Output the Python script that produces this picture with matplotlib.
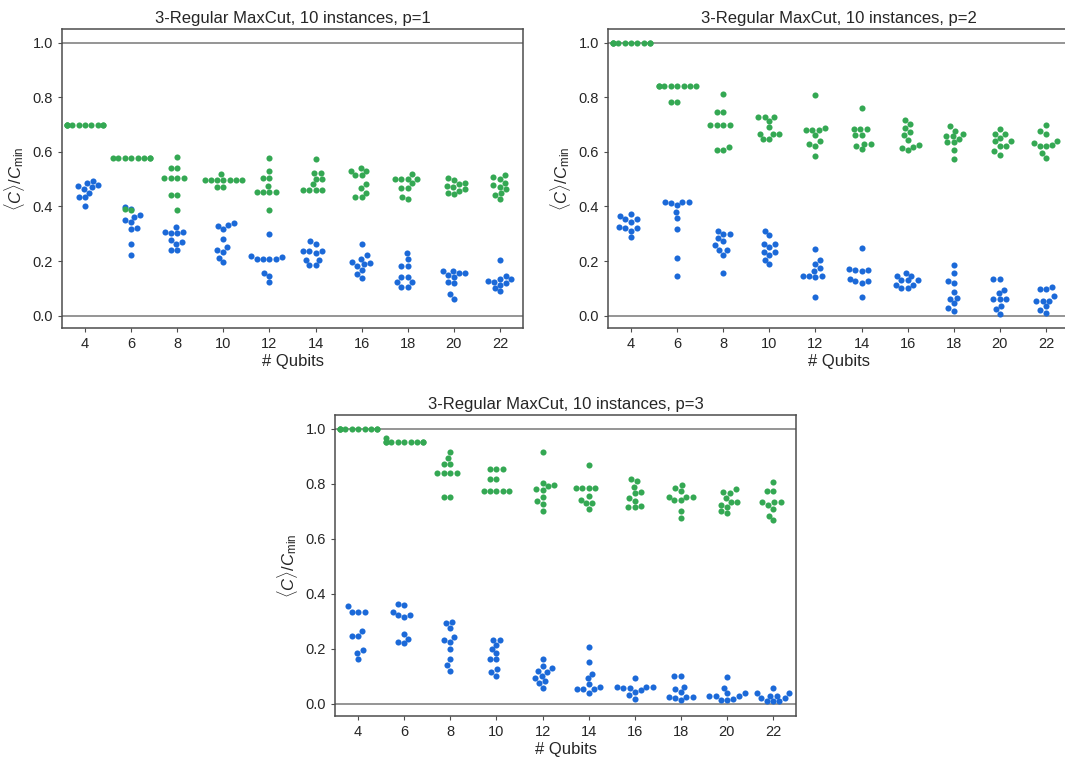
import warnings
import matplotlib
matplotlib.use('Agg')
import matplotlib.pyplot as plt
import numpy as np
import pandas as pd
import seaborn as sns

warnings.filterwarnings('ignore')

qubits = [4, 6, 8, 10, 12, 14, 16, 18, 20, 22]

# <C>/C_min per instance, one row of 10 instances per qubit count
ideal_p1 = [
    [0.70] * 10,
    [0.578] * 8 + [0.392, 0.386],
    [0.580, 0.541, 0.541, 0.504, 0.504, 0.504, 0.504, 0.443, 0.443, 0.388],
    [0.519, 0.498, 0.498, 0.498, 0.498, 0.498, 0.498, 0.498, 0.471, 0.471],
    [0.579, 0.529, 0.504, 0.504, 0.475, 0.453, 0.453, 0.453, 0.453, 0.388],
    [0.575, 0.524, 0.524, 0.502, 0.502, 0.481, 0.460, 0.460, 0.460, 0.460],
    [0.542, 0.531, 0.531, 0.515, 0.515, 0.481, 0.467, 0.451, 0.434, 0.434],
    [0.519, 0.501, 0.501, 0.501, 0.501, 0.485, 0.469, 0.469, 0.436, 0.427],
    [0.503, 0.497, 0.487, 0.481, 0.475, 0.470, 0.463, 0.458, 0.450, 0.444],
    [0.514, 0.507, 0.501, 0.487, 0.479, 0.473, 0.463, 0.451, 0.442, 0.428],
]
noisy_p1 = [
    [0.493, 0.485, 0.479, 0.475, 0.470, 0.465, 0.451, 0.436, 0.433, 0.403],
    [0.399, 0.390, 0.369, 0.363, 0.351, 0.343, 0.321, 0.316, 0.262, 0.221],
    [0.324, 0.307, 0.307, 0.302, 0.302, 0.277, 0.271, 0.262, 0.240, 0.240],
    [0.338, 0.331, 0.327, 0.316, 0.281, 0.253, 0.240, 0.234, 0.211, 0.196],
    [0.300, 0.219, 0.214, 0.207, 0.207, 0.207, 0.207, 0.155, 0.146, 0.123],
    [0.272, 0.263, 0.238, 0.238, 0.238, 0.231, 0.204, 0.204, 0.185, 0.185],
    [0.264, 0.221, 0.209, 0.196, 0.193, 0.189, 0.183, 0.168, 0.153, 0.137],
    [0.231, 0.209, 0.183, 0.183, 0.141, 0.141, 0.122, 0.122, 0.106, 0.106],
    [0.165, 0.165, 0.158, 0.158, 0.150, 0.143, 0.125, 0.118, 0.078, 0.060],
    [0.203, 0.146, 0.136, 0.133, 0.127, 0.124, 0.120, 0.113, 0.101, 0.089],
]

ideal_p2 = [
    [1.0] * 10,
    [0.842] * 8 + [0.783, 0.783],
    [0.813, 0.747, 0.747, 0.697, 0.697, 0.697, 0.697, 0.617, 0.606, 0.606],
    [0.729, 0.729, 0.729, 0.714, 0.690, 0.667, 0.667, 0.667, 0.648, 0.648],
    [0.810, 0.686, 0.679, 0.679, 0.679, 0.660, 0.639, 0.628, 0.622, 0.584],
    [0.762, 0.684, 0.684, 0.684, 0.662, 0.662, 0.629, 0.629, 0.620, 0.609],
    [0.715, 0.703, 0.688, 0.672, 0.663, 0.645, 0.624, 0.619, 0.614, 0.606],
    [0.693, 0.678, 0.666, 0.657, 0.657, 0.648, 0.635, 0.635, 0.607, 0.575],
    [0.684, 0.665, 0.665, 0.652, 0.638, 0.638, 0.623, 0.623, 0.602, 0.590],
    [0.698, 0.675, 0.665, 0.640, 0.633, 0.626, 0.622, 0.622, 0.595, 0.578],
]
noisy_p2 = [
    [0.372, 0.365, 0.353, 0.353, 0.344, 0.326, 0.320, 0.320, 0.311, 0.288],
    [0.418, 0.418, 0.418, 0.414, 0.405, 0.381, 0.359, 0.316, 0.210, 0.144],
    [0.310, 0.300, 0.300, 0.286, 0.273, 0.258, 0.242, 0.242, 0.224, 0.156],
    [0.312, 0.295, 0.263, 0.263, 0.250, 0.233, 0.233, 0.221, 0.203, 0.188],
    [0.245, 0.203, 0.191, 0.176, 0.163, 0.144, 0.144, 0.144, 0.141, 0.068],
    [0.247, 0.170, 0.166, 0.166, 0.162, 0.135, 0.126, 0.126, 0.119, 0.070],
    [0.156, 0.147, 0.147, 0.129, 0.129, 0.129, 0.114, 0.114, 0.102, 0.102],
    [0.186, 0.156, 0.127, 0.120, 0.087, 0.065, 0.063, 0.045, 0.027, 0.018],
    [0.134, 0.134, 0.095, 0.085, 0.063, 0.063, 0.063, 0.036, 0.023, 0.005],
    [0.107, 0.097, 0.097, 0.072, 0.055, 0.055, 0.055, 0.036, 0.021, 0.010],
]

ideal_p3 = [
    [1.0] * 10,
    [0.951] * 9 + [0.968],
    [0.914, 0.892, 0.871, 0.871, 0.840, 0.840, 0.840, 0.840, 0.752, 0.752],
    [0.855, 0.855, 0.855, 0.817, 0.817, 0.772, 0.772, 0.772, 0.772, 0.772],
    [0.914, 0.803, 0.794, 0.790, 0.781, 0.776, 0.750, 0.736, 0.726, 0.702],
    [0.869, 0.785, 0.785, 0.785, 0.785, 0.757, 0.742, 0.729, 0.729, 0.709],
    [0.818, 0.809, 0.789, 0.770, 0.767, 0.748, 0.738, 0.720, 0.717, 0.715],
    [0.797, 0.785, 0.775, 0.752, 0.752, 0.752, 0.740, 0.740, 0.702, 0.674],
    [0.779, 0.769, 0.766, 0.749, 0.733, 0.733, 0.724, 0.715, 0.701, 0.692],
    [0.806, 0.772, 0.772, 0.732, 0.732, 0.732, 0.724, 0.709, 0.683, 0.667],
]
noisy_p3 = [
    [0.354, 0.335, 0.335, 0.335, 0.264, 0.247, 0.247, 0.194, 0.185, 0.163],
    [0.364, 0.360, 0.335, 0.323, 0.323, 0.315, 0.255, 0.236, 0.225, 0.219],
    [0.298, 0.292, 0.276, 0.243, 0.231, 0.225, 0.198, 0.161, 0.139, 0.120],
    [0.233, 0.233, 0.215, 0.200, 0.185, 0.161, 0.161, 0.126, 0.116, 0.102],
    [0.161, 0.136, 0.128, 0.120, 0.114, 0.102, 0.093, 0.082, 0.075, 0.057],
    [0.205, 0.153, 0.108, 0.093, 0.071, 0.062, 0.052, 0.052, 0.052, 0.040],
    [0.094, 0.062, 0.062, 0.062, 0.055, 0.055, 0.050, 0.042, 0.030, 0.018],
    [0.099, 0.099, 0.062, 0.052, 0.042, 0.025, 0.025, 0.025, 0.021, 0.013],
    [0.095, 0.057, 0.037, 0.037, 0.028, 0.028, 0.028, 0.018, 0.013, 0.013],
    [0.055, 0.037, 0.037, 0.028, 0.028, 0.021, 0.021, 0.008, 0.008, 0.008],
]

titles = ['3-Regular MaxCut, 10 instances, p=1',
          '3-Regular MaxCut, 10 instances, p=2',
          '3-Regular MaxCut, 10 instances, p=3']

GREEN = '#34a853'
BLUE = '#1b69d8'

sns.set_style('ticks')
plt.rcParams['font.family'] = ['Liberation Sans', 'DejaVu Sans']
plt.rcParams['mathtext.fontset'] = 'custom'
plt.rcParams['mathtext.rm'] = 'Liberation Sans'
plt.rcParams['mathtext.it'] = 'Liberation Sans:italic'
plt.rcParams['axes.edgecolor'] = '0.3'
plt.rcParams['axes.linewidth'] = 1.1
plt.rcParams['xtick.major.size'] = 3
plt.rcParams['ytick.major.size'] = 3
plt.rcParams['xtick.color'] = '0.3'
plt.rcParams['ytick.color'] = '0.3'
plt.rcParams['xtick.labelcolor'] = '0.15'
plt.rcParams['ytick.labelcolor'] = '0.15'


def to_frame(values):
    rows = [(str(q), v) for q, vals in zip(qubits, values) for v in vals]
    return pd.DataFrame(rows, columns=['qubits', 'ratio'])


def draw_panel(ax, ideal, noisy, title):
    ax.axhline(1.0, color='0.55', lw=1.3, zorder=0)
    ax.axhline(0.0, color='0.55', lw=1.3, zorder=0)
    order = [str(q) for q in qubits]
    sns.swarmplot(data=to_frame(noisy), x='qubits', y='ratio', order=order,
                  color=BLUE, size=4.4, ax=ax)
    sns.swarmplot(data=to_frame(ideal), x='qubits', y='ratio', order=order,
                  color=GREEN, size=4.4, ax=ax)
    ax.set_xlim(-0.5, len(qubits) - 0.5)
    ax.set_ylim(-0.045, 1.05)
    ax.set_yticks([0.0, 0.2, 0.4, 0.6, 0.8, 1.0])
    ax.tick_params(labelsize=10.5)
    ax.set_title(title, fontsize=12, color='0.15', pad=4)
    ax.set_xlabel('# Qubits', fontsize=12, color='0.15', labelpad=2)
    ax.set_ylabel(r'$\langle C\rangle/C_{\mathrm{min}}$', fontsize=12, color='0.15', labelpad=4)
    for side in ['top', 'right', 'left', 'bottom']:
        ax.spines[side].set_visible(True)


fig = plt.figure(figsize=(10.65, 7.57), dpi=100)
ax1 = fig.add_axes([0.0582, 0.5667, 0.4329, 0.395])
ax2 = fig.add_axes([0.5709, 0.5667, 0.4329, 0.395])
ax3 = fig.add_axes([0.3146, 0.0542, 0.4329, 0.3976])

draw_panel(ax1, ideal_p1, noisy_p1, titles[0])
draw_panel(ax2, ideal_p2, noisy_p2, titles[1])
draw_panel(ax3, ideal_p3, noisy_p3, titles[2])

fig.savefig('out.png', dpi=100)
